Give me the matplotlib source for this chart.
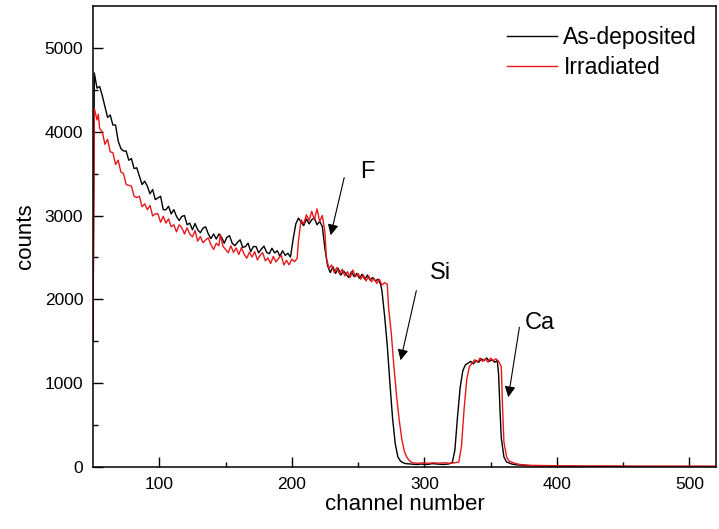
import matplotlib
matplotlib.use("Agg")
import matplotlib.pyplot as plt

plt.rcParams['font.family'] = ['Liberation Sans', 'DejaVu Sans']

# RBS spectra, counts per channel
ch_dep = [50, 51, 53, 55, 57, 59, 61, 63, 65, 67, 69, 71, 73, 75, 77, 79, 81, 83, 85, 87,
          89, 91, 93, 95, 97, 99, 101, 103, 105, 107, 109, 111, 113, 115, 117, 119, 121, 123, 125, 127,
          129, 131, 133, 135, 137, 139, 141, 143, 145, 147, 149, 151, 153, 155, 157, 159, 161, 163, 165, 167,
          169, 171, 173, 175, 177, 179, 181, 183, 185, 187, 189, 191, 193, 195, 197, 199, 201, 203, 205, 207,
          209, 211, 213, 215, 217, 219, 221, 223, 225, 227, 229, 231, 233, 235, 237, 239, 241, 243, 245, 247,
          249, 251, 253, 255, 257, 259, 261, 263, 265, 267, 268, 270, 272, 274, 276, 278, 280, 282, 284, 286,
          290, 294, 298, 302, 306, 310, 314, 318, 321, 323, 325, 327, 329, 331, 333, 335, 337, 339, 341, 343,
          345, 347, 349, 351, 353, 355, 356, 357, 358, 360, 362, 366, 370, 380, 400, 420, 440, 460, 480, 500,
          520]
cnt_dep = [1500, 4700, 4520, 4540, 4430, 4300, 4170, 4200, 4080, 4080, 3890, 3800, 3770, 3770, 3660, 3680, 3560, 3570, 3470, 3370,
           3410, 3350, 3260, 3310, 3190, 3210, 3230, 3070, 3070, 3110, 3020, 3070, 2990, 2940, 2990, 3000, 2890, 2910, 2830, 2905,
           2830, 2795, 2850, 2865, 2780, 2725, 2780, 2720, 2780, 2740, 2670, 2740, 2760, 2670, 2640, 2680, 2710, 2620, 2630, 2670,
           2570, 2630, 2630, 2555, 2600, 2635, 2560, 2545, 2610, 2555, 2580, 2515, 2580, 2525, 2550, 2505, 2720, 2900, 2970, 2920,
           2880, 2960, 2900, 2950, 2970, 2890, 2930, 2870, 2600, 2400, 2320, 2390, 2310, 2370, 2290, 2340, 2300, 2260, 2330, 2270,
           2310, 2250, 2300, 2240, 2290, 2230, 2260, 2220, 2240, 2180, 2100, 1800, 1450, 1000, 580, 280, 120, 70, 50, 40,
           35, 30, 35, 30, 40, 35, 30, 35, 50, 200, 600, 950, 1150, 1220, 1240, 1260, 1230, 1270, 1250, 1290,
           1270, 1300, 1260, 1280, 1250, 1270, 1100, 700, 350, 120, 60, 35, 25, 15, 10, 8, 8, 6, 6, 5,
           5]

ch_irr = [50, 51, 53, 54, 55, 57, 59, 61, 63, 65, 67, 69, 71, 73, 75, 77, 79, 81, 83, 85,
          87, 89, 91, 93, 95, 97, 99, 101, 103, 105, 107, 109, 111, 113, 115, 117, 119, 121, 123, 125,
          127, 129, 131, 133, 135, 137, 139, 141, 143, 145, 146, 148, 150, 152, 154, 156, 158, 160, 162, 164,
          166, 168, 170, 172, 174, 176, 178, 180, 182, 184, 186, 188, 190, 192, 194, 196, 198, 200, 202, 204,
          205, 207, 209, 211, 213, 215, 217, 219, 221, 223, 225, 226, 228, 230, 232, 234, 236, 238, 240, 242,
          244, 246, 248, 250, 252, 254, 256, 258, 260, 262, 264, 266, 268, 270, 272, 273, 275, 277, 279, 281,
          283, 285, 287, 289, 291, 295, 299, 303, 307, 311, 315, 319, 323, 326, 328, 330, 332, 334, 336, 338,
          340, 342, 344, 346, 348, 350, 352, 354, 356, 358, 359, 360, 362, 364, 368, 372, 380, 400, 420, 440,
          460, 480, 500, 520]
cnt_irr = [1550, 4280, 4140, 4210, 4040, 4000, 3850, 3910, 3760, 3750, 3610, 3660, 3520, 3500, 3370, 3360, 3350, 3230, 3215, 3230,
           3105, 3140, 3070, 3120, 2995, 3020, 3020, 2920, 2990, 2910, 2960, 2865, 2890, 2805, 2890, 2855, 2780, 2855, 2780, 2745,
           2820, 2695, 2750, 2675, 2710, 2735, 2650, 2595, 2670, 2640, 2775, 2635, 2595, 2557, 2639, 2561, 2613, 2535, 2617, 2539,
           2491, 2563, 2505, 2568, 2471, 2524, 2557, 2460, 2494, 2428, 2512, 2446, 2490, 2525, 2410, 2465, 2412, 2480, 2450, 2490,
           2700, 2950, 2900, 3010, 2940, 3050, 2950, 3080, 2930, 3000, 2800, 2500, 2370, 2410, 2320, 2380, 2300, 2360, 2280, 2330,
           2260, 2350, 2270, 2310, 2240, 2290, 2220, 2280, 2210, 2250, 2190, 2240, 2170, 2200, 2180, 1900, 1600, 1200, 850, 560,
           330, 180, 110, 70, 50, 45, 50, 45, 50, 45, 50, 45, 50, 60, 250, 700, 1050, 1200, 1240, 1280,
           1250, 1300, 1260, 1290, 1250, 1300, 1270, 1290, 1260, 1200, 700, 300, 120, 70, 45, 30, 20, 15, 12, 12,
           10, 10, 10, 10]

fig = plt.figure(figsize=(7.19, 5.29), dpi=100)
ax = fig.add_axes([93 / 719, 62 / 529, 623 / 719, 461 / 529])

ax.plot(ch_dep, cnt_dep, color='black', lw=1.0, label='As-deposited')
ax.plot(ch_irr, cnt_irr, color='#e8171c', lw=1.0, label='Irradiated')

ax.set_xlim(50, 520)
ax.set_ylim(0, 5500)
ax.set_xticks([100, 200, 300, 400, 500])
ax.set_xticks([150, 250, 350, 450], minor=True)
ax.set_yticks([0, 1000, 2000, 3000, 4000, 5000])
ax.set_yticks([500, 1500, 2500, 3500, 4500], minor=True)
ax.tick_params(which='major', direction='in', length=7, width=1, labelsize=12.5, pad=7)
ax.tick_params(which='minor', direction='in', length=3.5, width=1)
for s in ax.spines.values():
    s.set_linewidth(1.1)

ax.set_xlabel('channel number', fontsize=16, labelpad=2)
ax.set_ylabel('counts', fontsize=16, labelpad=6)

# element edges
arrow = dict(arrowstyle='-|>', color='black', lw=0.8, mutation_scale=16)
ax.annotate('', xy=(228.8, 2733), xytext=(240, 3485), arrowprops=arrow)
ax.text(256.7, 3520, 'F', fontsize=17, ha='center', va='center')
ax.annotate('', xy=(281.6, 1241), xytext=(294.4, 2136), arrowprops=arrow)
ax.text(311.8, 2315, 'Si', fontsize=17, ha='center', va='center')
ax.annotate('', xy=(363, 800), xytext=(372, 1700), arrowprops=arrow)
ax.text(387, 1720, 'Ca', fontsize=17, ha='center', va='center')

ax.legend(loc='upper left', bbox_to_anchor=(507 / 719, 503 / 529), bbox_transform=fig.transFigure,
          frameon=False, fontsize=16.5, handlelength=2.2, handletextpad=0.26,
          labelspacing=0.3, borderpad=0, borderaxespad=0)

fig.savefig('out.png', dpi=100)
